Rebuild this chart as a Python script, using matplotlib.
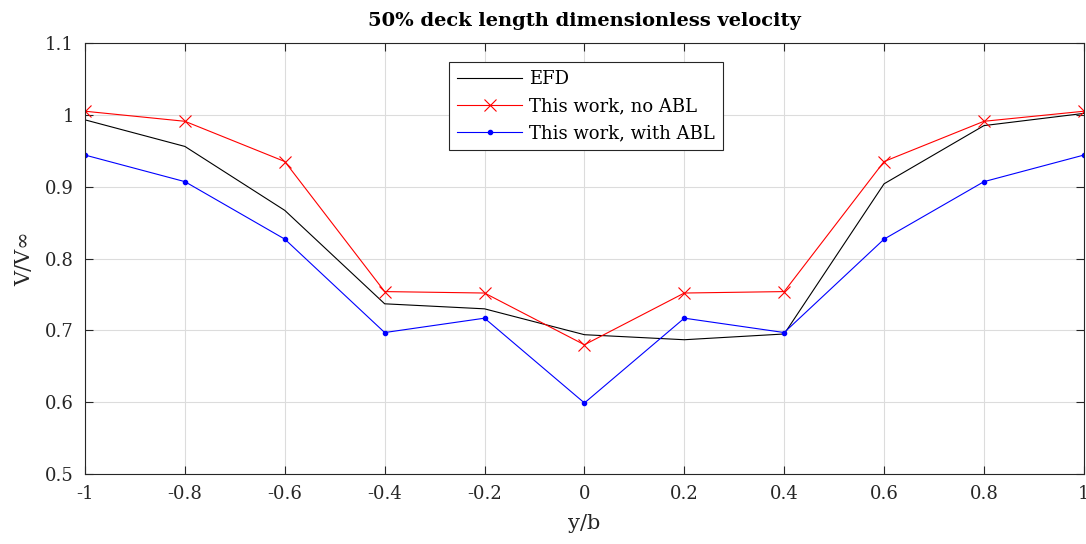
import numpy as np
import matplotlib
matplotlib.use("Agg")
import matplotlib.pyplot as plt

# data
y_b = [-1, -0.8, -0.6, -0.4, -0.2, 0, 0.2, 0.4, 0.6, 0.8, 1]
efd = [0.993, 0.956, 0.867, 0.737, 0.730, 0.694, 0.687, 0.695, 0.904, 0.985, 1.002]
no_abl = [1.005, 0.991, 0.935, 0.754, 0.752, 0.680, 0.752, 0.754, 0.935, 0.991, 1.005]
with_abl = [0.944, 0.907, 0.827, 0.697, 0.717, 0.599, 0.717, 0.697, 0.827, 0.907, 0.944]
labels = ["EFD", "This work, no ABL", "This work, with ABL"]

plt.rcParams['font.family'] = ['DejaVu Serif']
plt.rcParams['axes.unicode_minus'] = False

fig = plt.figure(figsize=(10.86, 5.44), dpi=100)
ax = fig.add_axes([0.0783, 0.1285, 0.9197, 0.7925])

ax.plot(y_b, efd, color='black', lw=0.8, label=labels[0])
ax.plot(y_b, no_abl, color='red', lw=0.8, marker='x', ms=8, mew=0.8, label=labels[1])
ax.plot(y_b, with_abl, color='blue', lw=0.8, marker='.', ms=6, label=labels[2])

ax.set_xlim(-1, 1)
ax.set_ylim(0.5, 1.1)
ax.set_xticks(np.arange(-1, 1.01, 0.2))
ax.set_xticklabels(['-1', '-0.8', '-0.6', '-0.4', '-0.2', '0', '0.2', '0.4', '0.6', '0.8', '1'])
ax.set_yticks(np.arange(0.5, 1.101, 0.1))
ax.set_yticklabels(['0.5', '0.6', '0.7', '0.8', '0.9', '1', '1.1'])
ax.tick_params(direction='in', top=True, right=True, length=6, width=0.8,
               colors='#262626', labelsize=13, pad=8)
for s in ax.spines.values():
    s.set_color('#262626')
    s.set_linewidth(0.8)
ax.grid(True, color='#dcdcdc', lw=0.8)
ax.set_axisbelow(True)

ax.set_xlabel('y/b', fontsize=15, color='#262626', labelpad=8)
ax.set_ylabel('V/V\u221e', fontsize=15, color='#262626', labelpad=8)
ax.set_title('50% deck length dimensionless velocity', fontsize=14,
             fontweight='bold', pad=12)

leg = ax.legend(loc='upper left', bbox_to_anchor=(0.3644, 0.956), borderaxespad=0,
                fontsize=13, fancybox=False, framealpha=1, edgecolor='#262626',
                handlelength=3.6, borderpad=0.45, labelspacing=0.5,
                handletextpad=0.4)
leg.get_frame().set_linewidth(0.8)

fig.savefig('out.png', dpi=100)
